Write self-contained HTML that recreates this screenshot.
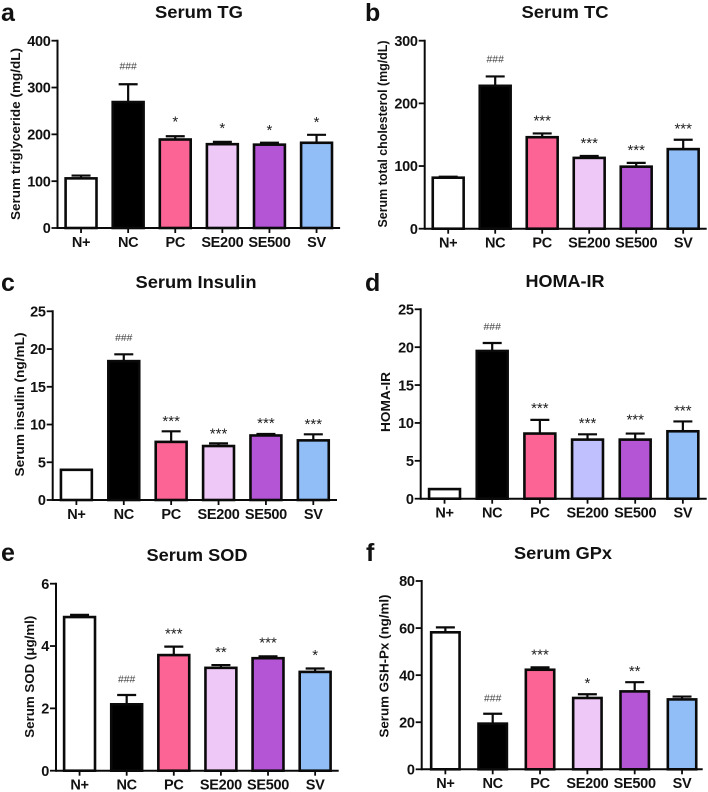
<!DOCTYPE html>
<html lang="en">
<head>
<meta charset="utf-8">
<title>Serum biomarker bar charts</title>
<style>
  html, body { margin: 0; padding: 0; background: #fff; }
  svg { display: block; font-family: "Liberation Sans", Arial, sans-serif; filter: blur(0.3px); }
  .letter { font-size: 25px; font-weight: 700; fill: #111; }
  .title { font-size: 17.5px; font-weight: 700; fill: #111; text-anchor: middle; }
  .ytitle { font-size: 13px; font-weight: 700; fill: #111; text-anchor: middle; }
</style>
</head>
<body>
<svg id="figure" width="708" height="792" viewBox="0 0 708 792" xmlns="http://www.w3.org/2000/svg">
  <g id="panel-a">
    <text class="letter" x="1" y="21">a</text>
    <text class="title" x="199" y="18" textLength="88" lengthAdjust="spacingAndGlyphs">Serum TG</text>
    <text class="ytitle" transform="translate(20,134) rotate(-90)" textLength="172" lengthAdjust="spacingAndGlyphs">Serum triglyceride (mg/dL)</text>
  </g>
  <g id="panel-b">
    <text class="letter" x="365" y="21">b</text>
    <text class="title" x="565" y="18" textLength="87" lengthAdjust="spacingAndGlyphs">Serum TC</text>
    <text class="ytitle" transform="translate(387,134) rotate(-90)" textLength="187" lengthAdjust="spacingAndGlyphs">Serum total cholesterol (mg/dL)</text>
  </g>
  <g id="panel-c">
    <text class="letter" x="1" y="291">c</text>
    <text class="title" x="196" y="288" textLength="121" lengthAdjust="spacingAndGlyphs">Serum Insulin</text>
    <text class="ytitle" transform="translate(24,404.5) rotate(-90)" textLength="144" lengthAdjust="spacingAndGlyphs">Serum insulin (ng/mL)</text>
  </g>
  <g id="panel-d">
    <text class="letter" x="365" y="291">d</text>
    <text class="title" x="565" y="287" textLength="79" lengthAdjust="spacingAndGlyphs">HOMA-IR</text>
    <text class="ytitle" transform="translate(390,402) rotate(-90)" textLength="60" lengthAdjust="spacingAndGlyphs">HOMA-IR</text>
  </g>
  <g id="panel-e">
    <text class="letter" x="1" y="561">e</text>
    <text class="title" x="197" y="561" textLength="101" lengthAdjust="spacingAndGlyphs">Serum SOD</text>
    <text class="ytitle" transform="translate(34,676.7) rotate(-90)" textLength="122" lengthAdjust="spacingAndGlyphs">Serum SOD (μg/ml)</text>
  </g>
  <g id="panel-f">
    <text class="letter" x="366" y="561">f</text>
    <text class="title" x="563" y="559" textLength="98" lengthAdjust="spacingAndGlyphs">Serum GPx</text>
    <text class="ytitle" transform="translate(388.7,666) rotate(-90)" textLength="143" lengthAdjust="spacingAndGlyphs">Serum GSH-Px (ng/ml)</text>
  </g>
</svg>
<script>
// ---- Data ----
const categories = ['N+', 'NC', 'PC', 'SE200', 'SE500', 'SV'];

const tgValues = [106, 269, 189, 179, 178, 182];
const tgErrors = [6, 38, 7, 5, 4, 17];
const tgTicks = [0, 100, 200, 300, 400];
const tgSigLabels = ['', '###', '*', '*', '*', '*'];
const tgSigLevels = [0, 346, 234, 220, 216, 233];

const tcValues = [81.4, 228, 146, 113, 99, 127];
const tcErrors = [1.6, 15, 6, 3, 6, 15];
const tcTicks = [0, 100, 200, 300];
const tcSigLabels = ['', '###', '***', '***', '***', '***'];
const tcSigLevels = [0, 271, 178, 141.5, 131, 165];

const insulinValues = [4.0, 18.4, 7.7, 7.15, 8.55, 7.9];
const insulinErrors = [0, 0.9, 1.4, 0.35, 0.2, 0.8];
const insulinTicks = [0, 5, 10, 15, 20, 25];
const insulinSigLabels = ['', '###', '***', '***', '***', '***'];
const insulinSigLevels = [0, 21.55, 10.87, 9.23, 10.6, 10.47];

const homaValues = [1.27, 19.5, 8.6, 7.8, 7.8, 8.9];
const homaErrors = [0, 1.05, 1.8, 0.7, 0.8, 1.3];
const homaTicks = [0, 5, 10, 15, 20, 25];
const homaSigLabels = ['', '###', '***', '***', '***', '***'];
const homaSigLevels = [0, 22.75, 12.37, 10.43, 10.87, 12.06];

const sodValues = [4.93, 2.13, 3.71, 3.3, 3.61, 3.17];
const sodErrors = [0.07, 0.3, 0.27, 0.09, 0.06, 0.11];
const sodTicks = [0, 2, 4, 6];
const sodSigLabels = ['', '###', '***', '**', '***', '*'];
const sodSigLevels = [0, 2.95, 4.5, 3.91, 4.22, 3.82];

const gpxValues = [58.2, 19.4, 42.3, 30.3, 33.1, 29.7];
const gpxErrors = [2.1, 4.2, 1, 1.6, 3.9, 1.2];
const gpxTicks = [0, 20, 40, 60, 80];
const gpxSigLabels = ['', '###', '***', '*', '**', ''];
const gpxSigLevels = [0, 30.4, 50.1, 38.1, 43.2, 0];

const standardColors = ['#ffffff', '#000000', '#fb6494', '#eec9f7', '#b455d6', '#92bef7'];
const homaColors = ['#ffffff', '#000000', '#fb6494', '#c0c0ff', '#b455d6', '#92bef7'];

// ---- Drawing ----
const NS = 'http://www.w3.org/2000/svg';

function make(parent, tag, attrs, text) {
  const el = document.createElementNS(NS, tag);
  for (const k in attrs) el.setAttribute(k, attrs[k]);
  if (text !== undefined) el.textContent = text;
  parent.appendChild(el);
  return el;
}

function drawPanel(p) {
  const root = document.getElementById(p.id);
  const maxTick = p.ticks[p.ticks.length - 1];
  const yScale = function (v) { return p.y0 - (v / maxTick) * (p.y0 - p.yTop); };
  const step = p.plotW / categories.length;
  const xScale = function (i) { return p.x0 + step * (i + 0.5); };
  const ink = '#0a0a0a';

  const barsGroup = make(root, 'g', {});
  
  

  categories.forEach(function (cat, i) {
    const cx = xScale(i);
    const top = yScale(p.values[i]);
    const errTop = yScale(p.values[i] + p.errors[i]);

    if (p.errors[i] > 0) {
      const stem = make(barsGroup, 'line', { x1: cx, x2: cx, y1: top, y2: errTop, stroke: ink, 'stroke-width': 2.2 });
      
      
      const cap = make(barsGroup, 'line', { x1: cx - 9.5, x2: cx + 9.5, y1: errTop, y2: errTop, stroke: ink, 'stroke-width': 2.2 });
      
      
    }

    const bar = make(barsGroup, 'rect', {
      x: cx - p.barW / 2 + 1.3, y: top,
      width: p.barW - 2.6, height: Math.max(0, p.y0 - top),
      fill: p.colors[i], stroke: ink, 'stroke-width': 2.6
    });
    
    

    const tick = make(root, 'line', { x1: cx, x2: cx, y1: p.y0, y2: p.y0 + 5, stroke: ink, 'stroke-width': 1.8 });
    
    

    const label = make(root, 'text', {
      x: cx, y: p.y0 + 18.9, 'text-anchor': 'middle',
      'font-size': 14.5, 'letter-spacing': -0.3, 'font-weight': 700, fill: '#111'
    }, cat);
    
    

    if (p.sigLabels[i]) {
      const isHash = p.sigLabels[i].charAt(0) === '#';
      const sy = yScale(p.sigLevels[i]) + (isHash ? 3.6 : 8.2);
      const sig = make(root, 'text', {
        x: cx, y: sy, 'text-anchor': 'middle',
        'font-size': isHash ? 10.4 : 15, fill: isHash ? '#444' : '#222'
      }, p.sigLabels[i]);
      
      
    }
  });

  const yAxis = make(root, 'line', { x1: p.x0, x2: p.x0, y1: p.yTop - 1, y2: p.y0 + 1, stroke: ink, 'stroke-width': 2 });
  
  

  const xAxis = make(root, 'line', { x1: p.x0, x2: p.x0 + p.axisW, y1: p.y0, y2: p.y0, stroke: ink, 'stroke-width': 2 });
  
  

  p.ticks.forEach(function (t) {
    const y = yScale(t);
    const tick = make(root, 'line', { x1: p.x0 - 6, x2: p.x0, y1: y, y2: y, stroke: ink, 'stroke-width': 1.8 });
    
    
    const label = make(root, 'text', {
      x: p.x0 - 7, y: y + 5.2, 'text-anchor': 'end',
      'font-size': 14.5, 'letter-spacing': -0.3, 'font-weight': 700, fill: '#111'
    }, String(t));
    
    
  });
}

drawPanel({ id: 'panel-a', x0: 57.5, plotW: 282.6, axisW: 282.6, y0: 228, yTop: 40.7, barW: 33.5, ticks: tgTicks, values: tgValues, errors: tgErrors, sigLabels: tgSigLabels, sigLevels: tgSigLevels, colors: standardColors });
drawPanel({ id: 'panel-b', x0: 424.7, plotW: 282, axisW: 282, y0: 228.7, yTop: 40.7, barW: 33.5, ticks: tcTicks, values: tcValues, errors: tcErrors, sigLabels: tcSigLabels, sigLevels: tcSigLevels, colors: standardColors });
drawPanel({ id: 'panel-c', x0: 52.7, plotW: 284.3, axisW: 284.3, y0: 500, yTop: 311.3, barW: 33.5, ticks: insulinTicks, values: insulinValues, errors: insulinErrors, sigLabels: insulinSigLabels, sigLevels: insulinSigLevels, colors: standardColors });
drawPanel({ id: 'panel-d', x0: 420.7, plotW: 286, axisW: 286, y0: 498.7, yTop: 309.3, barW: 33.5, ticks: homaTicks, values: homaValues, errors: homaErrors, sigLabels: homaSigLabels, sigLevels: homaSigLevels, colors: homaColors });
drawPanel({ id: 'panel-e', x0: 56, plotW: 282.7, axisW: 282.7, y0: 770.7, yTop: 583.7, barW: 33.5, ticks: sodTicks, values: sodValues, errors: sodErrors, sigLabels: sodSigLabels, sigLevels: sodSigLevels, colors: standardColors });
drawPanel({ id: 'panel-f', x0: 421.7, plotW: 284, axisW: 281, y0: 769.3, yTop: 581, barW: 31, ticks: gpxTicks, values: gpxValues, errors: gpxErrors, sigLabels: gpxSigLabels, sigLevels: gpxSigLevels, colors: standardColors });
</script>
</body>
</html>
